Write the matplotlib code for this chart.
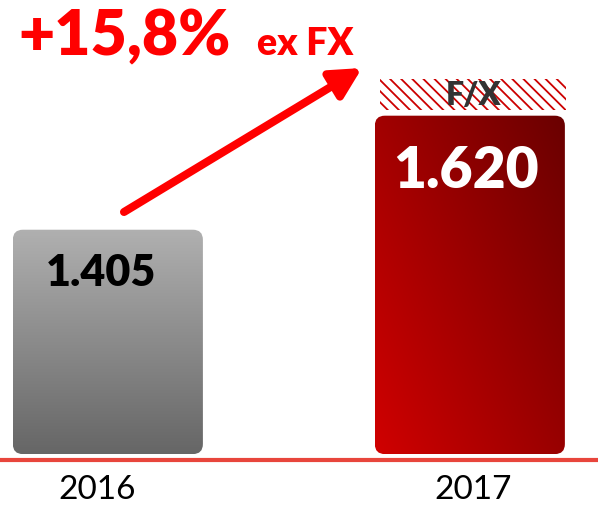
import numpy as np
import matplotlib.pyplot as plt
from matplotlib.patches import FancyBboxPatch, Rectangle
from matplotlib.colors import LinearSegmentedColormap

# chart data
years = ["2016", "2017"]
values = [1.405, 1.620]
value_labels = ["1.405", "1.620"]
fx_effect = 0.059
growth_label = "+15,8%"
growth_note = "ex FX"

plt.rcParams['font.family'] = ['Lato', 'DejaVu Sans']
plt.rcParams['hatch.linewidth'] = 1.3

fig = plt.figure(figsize=(5.98, 5.06), dpi=100)
ax = fig.add_axes([0, 0, 1, 1])
ax.set_xlim(-0.298, 1.354)
ax.set_ylim(0.886, 1.840)
ax.axis('off')

base = 0.982
width = 0.525
rx = 0.0276
aspect = 0.684

gray_cmap = LinearSegmentedColormap.from_list("g", ["#666666", "#b0b0b0"])
red_cmap = LinearSegmentedColormap.from_list("r", ["#d00000", "#6a0000"])

for i, v in enumerate(values):
    x0 = i - width / 2
    patch = FancyBboxPatch((x0, base), width, v - base,
                           boxstyle=f"round,pad=0,rounding_size={rx}",
                           mutation_aspect=aspect, linewidth=0,
                           facecolor="none")
    ax.add_patch(patch)
    if i == 0:
        grad = np.linspace(0, 1, 256).reshape(-1, 1)
        im = ax.imshow(grad, cmap=gray_cmap, origin="lower", aspect="auto",
                       extent=[x0, x0 + width, base, v], interpolation="bilinear")
    else:
        gx, gy = np.meshgrid(np.linspace(0, 1, 128), np.linspace(0, 1, 256))
        grad = (gx * 0.55 + gy * 0.45)
        im = ax.imshow(grad, cmap=red_cmap, origin="lower", aspect="auto",
                       extent=[x0, x0 + width, base, v], interpolation="bilinear")
    im.set_clip_path(patch)

# F/X hatched segment on top of 2017
ax.add_patch(Rectangle((1 - width / 2 + 0.014, values[1] + 0.011), width - 0.012, fx_effect,
                       facecolor="white", edgecolor="#cc0000", hatch="\\\\\\", linewidth=0))
ax.text(1.01, values[1] + 0.011 + fx_effect / 2, "F/X", ha="center", va="center",
        fontsize=23, fontweight="heavy", color="#333333")

# value labels
ax.text(-0.02, 1.405 - 0.080, value_labels[0], ha="center", va="center",
        fontsize=31, fontweight="heavy", color="black")
ax.text(0.99, 1.620 - 0.103, value_labels[1], ha="center", va="center",
        fontsize=41, fontweight="heavy", color="white")

# baseline and year labels
ax.axhline(0.971, color="#e8453c", linewidth=3)
ax.text(-0.03, 0.917, years[0], ha="center", va="center", fontsize=24, color="black")
ax.text(1.01, 0.917, years[1], ha="center", va="center", fontsize=24, color="black")

# growth arrow and label
ax.annotate("", xy=(362, 437), xytext=(124, 293), xycoords="figure pixels",
            arrowprops=dict(arrowstyle="-|>,head_length=0.9,head_width=0.47",
                            mutation_scale=20, lw=5.8, color="#ff0000",
                            shrinkA=0, shrinkB=0))
fig.text(18, 451, growth_label, transform=None, ha="left", va="baseline",
         fontsize=45, fontweight="heavy", color="#ff0000")
fig.text(257, 451, growth_note, transform=None, ha="left", va="baseline",
         fontsize=27, fontweight="heavy", color="#ff0000")

fig.savefig("out.png", dpi=100)
